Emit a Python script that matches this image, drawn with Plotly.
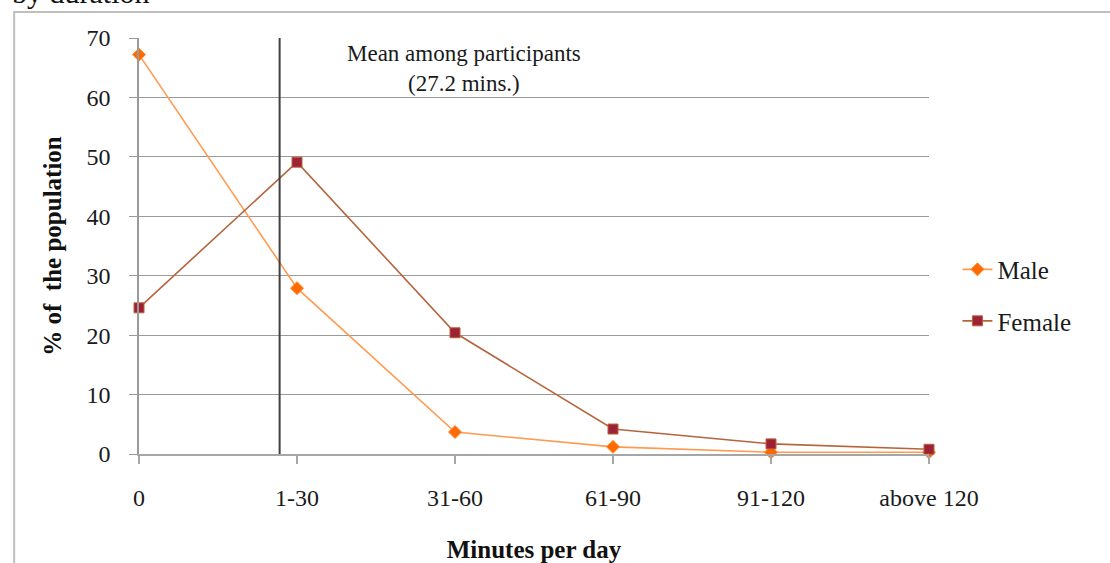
import plotly.graph_objects as go

categories = ["0", "1-30", "31-60", "61-90", "91-120", "above 120"]
male = [67.2, 27.9, 3.7, 1.2, 0.3, 0.3]
female = [24.6, 49.1, 20.4, 4.2, 1.7, 0.8]
y_ticks = [0, 10, 20, 30, 40, 50, 60, 70]
mean_pos = 0.89  # position of mean line (27.2 mins) in category units
mean_label = "Mean among participants<br>(27.2 mins.)"

FONT = "Liberation Serif"
xs = list(range(len(categories)))

fig = go.Figure()
fig.add_trace(go.Scatter(
    x=xs, y=male, name="Male", mode="lines+markers", legendgroup="m",
    line=dict(color="#FF9A4F", width=1.6),
    marker=dict(symbol="diamond", size=10, color="#FF6A00", line=dict(color="#FF8A33", width=1)),
    cliponaxis=False,
))
fig.add_trace(go.Scatter(
    x=xs, y=female, name="Female", mode="lines+markers", legendgroup="f",
    line=dict(color="#B5653D", width=1.6),
    marker=dict(symbol="square", size=10, color="#9B2335", line=dict(color="#C0603A", width=1)),
    cliponaxis=False,
))

fig.add_shape(type="line", xref="x", yref="paper", x0=mean_pos, x1=mean_pos, y0=0, y1=1.0,
              line=dict(color="#404040", width=2))
# outer border
fig.add_shape(type="rect", xref="paper", yref="paper", x0=-0.158, x1=1.6, y0=-0.5, y1=1.0625,
              line=dict(color="#BFBFBF", width=2), layer="below")

fig.add_annotation(xref="x", yref="paper", x=2.06, y=0.997, yanchor="top", showarrow=False,
                   text=mean_label, font=dict(family=FONT, size=23, color="#1a1a1a"))
fig.add_annotation(xref="paper", yref="paper", x=-0.163, y=1.064, xanchor="left", yanchor="bottom",
                   showarrow=False, text="by duration", font=dict(family=FONT, size=30, color="#111"))

fig.update_layout(
    width=1110, height=563,
    margin=dict(l=139, r=181, t=38, b=109),
    paper_bgcolor="white", plot_bgcolor="white",
    font=dict(family=FONT, size=24, color="#1a1a1a"),
    showlegend=True,
    legend=dict(x=1.036, y=0.382, xanchor="left", yanchor="middle", tracegroupgap=16,
                traceorder="grouped", font=dict(family=FONT, size=25, color="#1a1a1a"),
                bgcolor="rgba(0,0,0,0)"),
    xaxis=dict(
        range=[0, 5], tickvals=xs, ticktext=categories, automargin=False,
        showgrid=False, zeroline=False,
        showline=True, linecolor="#A6A6A6", linewidth=2,
        ticks="outside", ticklen=8, tickcolor="#A6A6A6", tickwidth=1.5,
        ticklabelstandoff=13,
        tickfont=dict(family=FONT, size=24, color="#1a1a1a"),
        title=dict(text="<b>Minutes per day</b>", font=dict(family=FONT, size=25, color="#111"), standoff=36),
    ),
    yaxis=dict(
        range=[0, 70], tickvals=y_ticks, automargin=False,
        showgrid=True, gridcolor="#9A9A9A", gridwidth=1.3,
        zeroline=False,
        showline=True, linecolor="#9A9A9A", linewidth=1.5,
        ticks="outside", ticklen=8, tickcolor="#9A9A9A", tickwidth=1.3,
        ticklabelstandoff=14,
        tickfont=dict(family=FONT, size=24, color="#1a1a1a"),
        title=dict(text="<b>% of  the population</b>", font=dict(family=FONT, size=25, color="#111"), standoff=18),
    ),
)

fig.write_html("out.html")
